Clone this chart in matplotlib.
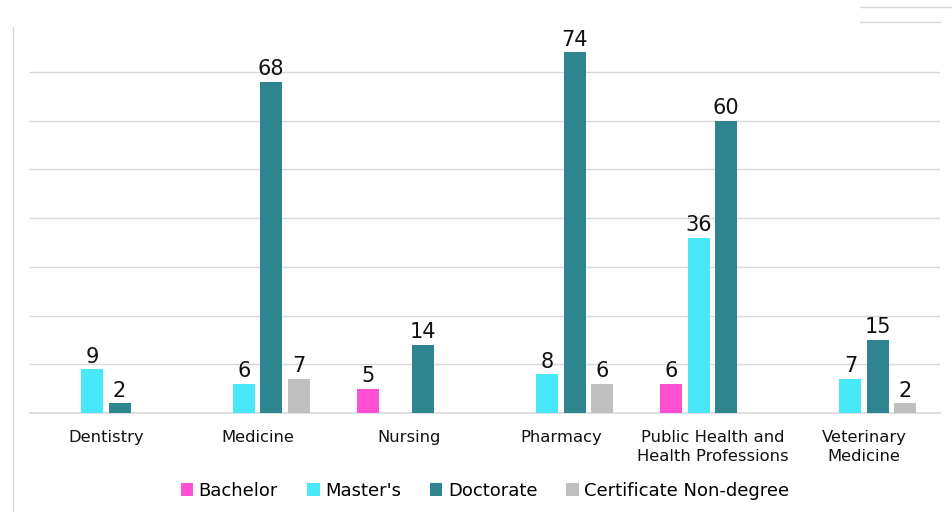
import numpy as np
import matplotlib
matplotlib.use("Agg")
import matplotlib.pyplot as plt
from matplotlib.lines import Line2D
from matplotlib.patches import Patch

categories = ["Dentistry", "Medicine", "Nursing", "Pharmacy",
              "Public Health and\nHealth Professions", "Veterinary\nMedicine"]
series = ["Bachelor", "Master's", "Doctorate", "Certificate Non-degree"]
bachelor = [0, 0, 5, 0, 6, 0]
masters = [9, 6, 0, 8, 36, 7]
doctorate = [2, 68, 14, 74, 60, 15]
certificate = [0, 7, 0, 6, 0, 2]
colors = ["#FF4FD2", "#48E8F8", "#2E8590", "#BFBFBF"]

plt.rcParams["font.family"] = "DejaVu Sans"

fig = plt.figure(figsize=(9.53, 5.12), dpi=100)
ax = fig.add_axes([30 / 953, 99 / 512, 910 / 953, 390 / 512])

x = np.arange(len(categories))
width = 0.145
pitch = 0.181
data = [bachelor, masters, doctorate, certificate]
for k, (vals, col) in enumerate(zip(data, colors)):
    pos = x + (k - 1.5) * pitch
    for xi, v in zip(pos, vals):
        if v > 0:
            ax.bar(xi, v, width=width, color=col, zorder=3)
            ax.text(xi, v + 0.5, str(v), ha="center", va="bottom",
                    fontsize=15, color="#111")

ax.set_xlim(-0.5, len(categories) - 0.5)
ax.set_ylim(0, 80)
for g in range(10, 80, 10):
    ax.axhline(g, color="#D9D9D9", linewidth=1, zorder=0)
ax.set_yticks([])
ax.set_xticks(x)
ax.set_xticklabels(categories, fontsize=11.8, color="#111", linespacing=1.35)
ax.tick_params(axis="x", length=0, pad=12)
for s in ["top", "right", "left"]:
    ax.spines[s].set_visible(False)
ax.spines["bottom"].set_color("#D9D9D9")
ax.spines["bottom"].set_linewidth(1.2)

# stray decorations from the original page
fig.add_artist(Line2D([13 / 953, 13 / 953], [0, 485 / 512], color="#D9D9D9", lw=1))
fig.add_artist(Line2D([860 / 953, 940 / 953], [490 / 512, 490 / 512], color="#D9D9D9", lw=1))
fig.add_artist(Line2D([860 / 953, 953 / 953], [505 / 512, 505 / 512], color="#D9D9D9", lw=1))

handles = [Patch(facecolor=c, edgecolor="none") for c in colors]
fig.legend(handles, series, loc="center", bbox_to_anchor=(485 / 953, 21 / 512),
           ncol=4, frameon=False, fontsize=13, handlelength=0.7,
           handleheight=0.7, handletextpad=0.3, columnspacing=1.6)

fig.savefig("out.png", dpi=100, facecolor="white")
